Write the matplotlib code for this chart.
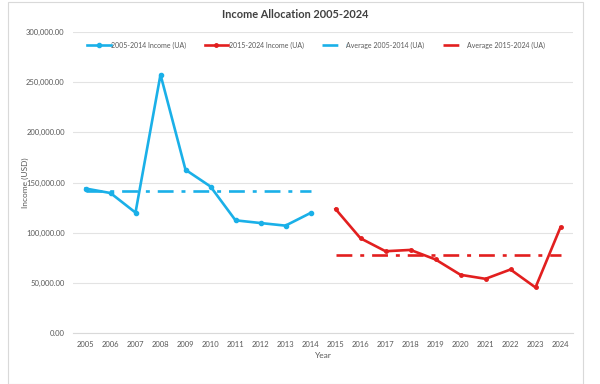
import matplotlib
matplotlib.use("Agg")
import matplotlib.pyplot as plt
from matplotlib.ticker import FuncFormatter, MultipleLocator
from matplotlib.patches import Rectangle

years = [str(y) for y in range(2005, 2025)]
income_2005_2014 = [144000, 139500, 120000, 257500, 162700, 146000, 112300, 109600, 107000, 119600]
income_2015_2024 = [123600, 94400, 81500, 82800, 73300, 58000, 54000, 63300, 45400, 105400]
avg_2005_2014 = sum(income_2005_2014) / len(income_2005_2014)
avg_2015_2024 = sum(income_2015_2024) / len(income_2015_2024)

blue = "#1AB0E8"
red = "#E21F1F"
txt = "#595959"

plt.rcParams['font.family'] = ['Lato', 'DejaVu Sans']

fig = plt.figure(figsize=(6, 3.84), dpi=100)
fig.patches.append(Rectangle((8/600, 0.0), (583-8)/600, 382/384, transform=fig.transFigure,
                             fill=False, edgecolor="#D9D9D9", linewidth=0.8))
ax = fig.add_axes([73/600, 1 - 333/384, (573-73)/600, (333-32)/384])

x1 = list(range(0, 10))
x2 = list(range(10, 20))
ax.plot(x1, income_2005_2014, color=blue, lw=1.9, marker='o', ms=3, label="2005-2014 Income (UA)")
ax.plot(x2, income_2015_2024, color=red, lw=1.9, marker='o', ms=2.5, label="2015-2024 Income (UA)")
ax.plot(x1, [avg_2005_2014]*len(x1), color=blue, lw=1.9, ls=(0, (6, 3, 1.5, 3)), label="Average 2005-2014 (UA)")
ax.plot(x2, [avg_2015_2024]*len(x2), color=red, lw=1.9, ls=(0, (6, 3, 1.5, 3)), label="Average 2015-2024 (UA)")

ax.set_xlim(-0.5, 19.5)
ax.set_ylim(0, 300000)
ax.set_xticks(range(20))
ax.set_xticklabels(years)
ax.yaxis.set_major_locator(MultipleLocator(50000))
ax.yaxis.set_major_formatter(FuncFormatter(lambda v, p: f"{v:,.2f}"))
ax.grid(axis='y', color="#E3E3E3", lw=0.8)
ax.set_axisbelow(True)
for s in ['top', 'right', 'left']:
    ax.spines[s].set_visible(False)
ax.spines['bottom'].set_color("#D9D9D9")
ax.tick_params(length=0, labelsize=5.5, colors=txt, pad=6)
ax.set_xlabel("Year", fontsize=6, color=txt, labelpad=3)
ax.set_ylabel("Income (USD)", fontsize=6, color=txt, labelpad=-2)

fig.text(295/600, 1 - 15/384, "Income Allocation 2005-2024", ha='center', va='center',
         fontsize=7.9, color="#404040", fontweight='bold')
leg = fig.legend(loc='center', bbox_to_anchor=(316/600, 1 - 45/384), ncol=4, frameon=False,
                 fontsize=5, handlelength=3.4, columnspacing=2.6, handletextpad=0.1)
for t in leg.get_texts():
    t.set_color(txt)

fig.savefig("out.png", dpi=100)
